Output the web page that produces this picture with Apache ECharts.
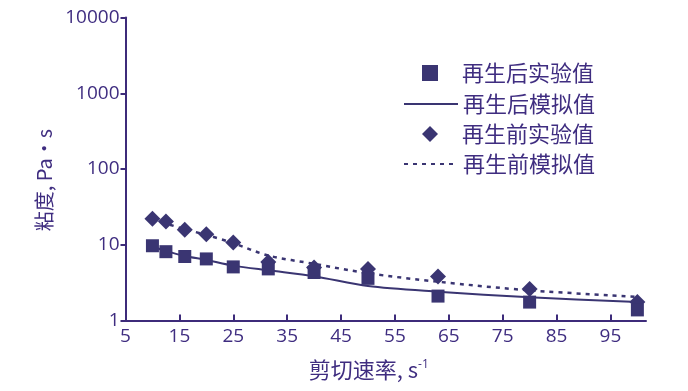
<!DOCTYPE html>
<html>
<head>
<meta charset="utf-8">
<script src="https://cdn.jsdelivr.net/npm/echarts@6/dist/echarts.min.js"></script>
<style>html,body{margin:0;padding:0;background:#fff;}#c{width:688px;height:391px;}</style>
</head>
<body>
<div id="c"></div>
<script>
// Shear rate (s^-1)
var shearRate = [10, 12.5, 16, 20, 25, 31.5, 40, 50, 63, 80, 100];
// Viscosity after regeneration, experimental
var afterExp = [9.7, 8.1, 7.0, 6.5, 5.1, 4.8, 4.3, 3.6, 2.1, 1.75, 1.38];
// Viscosity after regeneration, model
var afterModel = [9.5, 8.3, 7.1, 6.3, 5.3, 4.6, 3.85, 2.85, 2.4, 2.02, 1.75];
// Viscosity before regeneration, experimental
var beforeExp = [22, 20.2, 15.8, 13.8, 10.7, 5.9, 5.0, 4.8, 3.8, 2.6, 1.75];
// Viscosity before regeneration, model
var beforeModel = [21, 19, 16, 13.5, 10.5, 7.2, 5.6, 4.2, 3.25, 2.5, 2.05];
var xTickValues = [15, 25, 35, 45, 55, 65, 75, 85, 95];
var xLabelValues = [5, 15, 25, 35, 45, 55, 65, 75, 85, 95];
var seriesNames = ['再生后实验值', '再生后模拟值', '再生前实验值', '再生前模拟值'];

function pairs(xs, ys) { return xs.map(function (x, i) { return [x, ys[i]]; }); }

var markColor = '#3a3572';
var axisColor = '#3d2b7a';
var textColor = '#3f2d80';
var legendText = {fontFamily: 'Noto Sans CJK SC', fontSize: 22, color: textColor, lineHeight: 22};

var chart = echarts.init(document.getElementById('c'), null, {renderer: 'canvas'});
chart.setOption({
  animation: false,
  backgroundColor: '#ffffff',
  grid: {left: 125.5, right: 42, top: 17.5, bottom: 70.5, containLabel: false},
  legend: [
    {
      orient: 'vertical',
      left: 417,
      top: 57,
      itemWidth: 16,
      itemHeight: 16,
      itemGap: 39,
      data: [
        {name: seriesNames[0], icon: 'rect', itemStyle: {color: markColor}},
        {name: seriesNames[2], icon: 'diamond', itemStyle: {color: markColor}}
      ],
      textStyle: Object.assign({padding: [0, 0, 0, 19]}, legendText)
    },
    {
      orient: 'vertical',
      left: 398,
      top: 88,
      itemWidth: 54,
      itemHeight: 16,
      itemGap: 38,
      data: [
        {name: seriesNames[1], itemStyle: {opacity: 0}},
        {name: seriesNames[3], itemStyle: {opacity: 0}}
      ],
      textStyle: legendText
    }
  ],
  xAxis: {
    type: 'value',
    min: 5,
    max: 101.6,
    name: '剪切速率, s{sup|-1}',
    nameLocation: 'middle',
    nameGap: 38,
    nameTextStyle: {
      fontFamily: 'Noto Sans CJK SC', fontSize: 22, color: textColor,
      padding: [0, 34, 0, 0],
      rich: {sup: {fontSize: 12, verticalAlign: 'top', color: textColor, padding: [0, 0, 8, 0], fontFamily: 'Open Sans'}}
    },
    axisLine: {lineStyle: {color: axisColor, width: 2}},
    axisTick: {show: true, inside: true, length: 6, customValues: xTickValues, lineStyle: {color: axisColor, width: 2}},
    axisLabel: {customValues: xLabelValues, margin: 7, fontFamily: 'Open Sans', fontSize: 19, color: textColor},
    splitLine: {show: false}
  },
  yAxis: {
    type: 'log',
    logBase: 10,
    min: 1,
    max: 10000,
    interval: 1,
    name: '粘度, Pa·s',
    nameLocation: 'middle',
    nameRotate: 90,
    nameGap: 66,
    nameTextStyle: {fontFamily: 'Noto Sans CJK SC', fontSize: 20, color: textColor, padding: [0, 22, 0, 0]},
    axisLine: {lineStyle: {color: axisColor, width: 2}},
    axisTick: {show: true, inside: false, length: 5, lineStyle: {color: axisColor, width: 2}},
    axisLabel: {margin: 6, fontFamily: 'Open Sans', fontSize: 19, color: textColor,
      formatter: function (v) { return String(Math.round(v)); }},
    minorTick: {show: false},
    splitLine: {show: false}
  },
  series: [
    {
      name: seriesNames[3], type: 'line', data: pairs(shearRate, beforeModel),
      smooth: 0.3, symbol: 'none', showSymbol: false, z: 2,
      lineStyle: {color: markColor, width: 2.5, type: [4, 5]}, itemStyle: {color: markColor}
    },
    {
      name: seriesNames[1], type: 'line', data: pairs(shearRate, afterModel),
      smooth: 0.3, symbol: 'none', showSymbol: false, z: 2,
      lineStyle: {color: markColor, width: 2}, itemStyle: {color: markColor}
    },
    {
      name: seriesNames[2], type: 'scatter', data: pairs(shearRate, beforeExp),
      symbol: 'diamond', symbolSize: [16, 16], z: 3,
      itemStyle: {color: markColor, opacity: 1}
    },
    {
      name: seriesNames[0], type: 'scatter', data: pairs(shearRate, afterExp),
      symbol: 'rect', symbolSize: 13, z: 4,
      itemStyle: {color: markColor, opacity: 1}
    }
  ]
});
</script>
</body>
</html>
